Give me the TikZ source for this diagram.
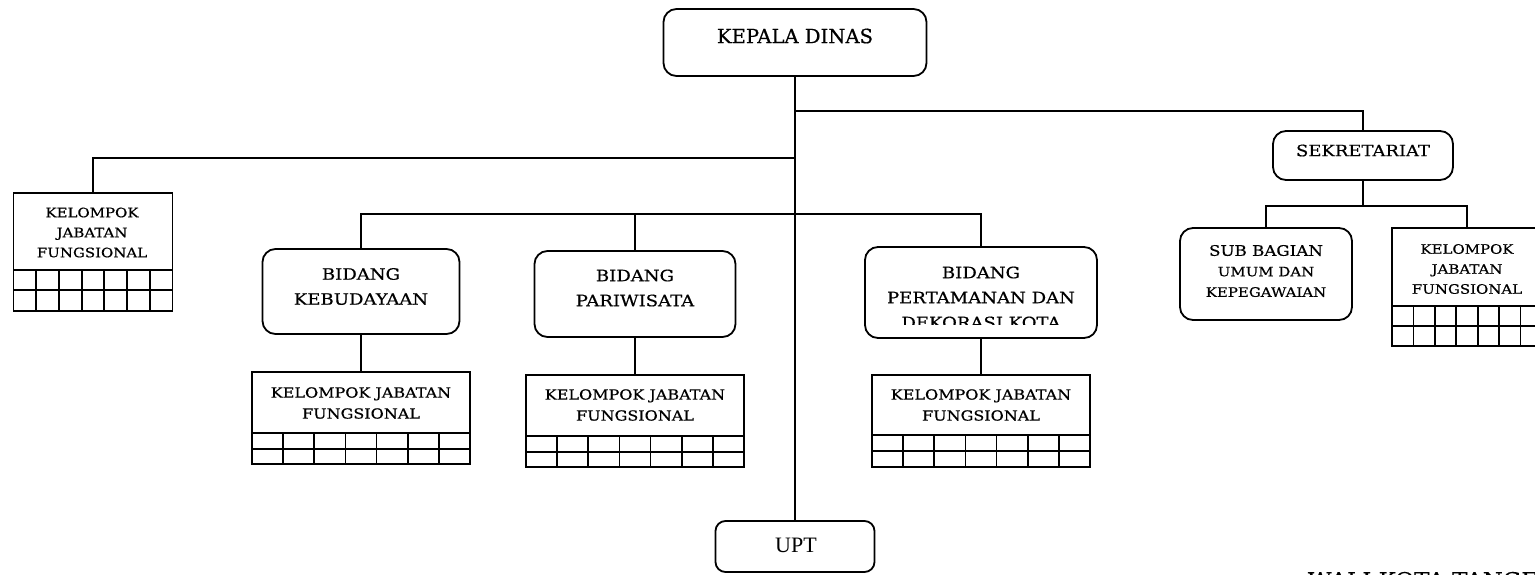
\documentclass[tikz,border=0pt]{standalone}
\usepackage{fontspec}
\setmainfont{DejaVu Serif}
\newfontfamily\wf[FakeStretch=1.15,FakeBold=0.6]{DejaVu Serif}
\newfontfamily\nf[FakeBold=0.6]{DejaVu Serif}
\newfontfamily\uptfont{Liberation Serif}
\usetikzlibrary{calc}
\newcommand\kjfgrid[3]{%
  \draw ([yshift=#2pt]#1.south west) -- ([yshift=#2pt]#1.south east);
  \draw ([yshift=#3pt]#1.south west) -- ([yshift=#3pt]#1.south east);
  \foreach \i in {1,...,6}{\draw ($(#1.south west)!\i/7!(#1.south east)$) -- ++(0,-#2);}
}
\begin{document}
\begin{tikzpicture}[x=1pt,y=-1pt,line width=1.8pt,
  rbox/.style={draw,rounded corners=13pt,outer sep=0pt,inner sep=0pt},
  sbox/.style={draw,outer sep=0pt,inner sep=0pt},
  lbl/.style n args={2}{align=center,inner sep=0pt,font=\wf\fontsize{#1}{#2}\selectfont}]
\useasboundingbox (0,0) rectangle (1535,574);
% boxes
\node[rbox,minimum width=263pt,minimum height=67pt] (kd) at (795,42.5) {};
\node[rbox,minimum width=180pt,minimum height=49pt] (sek) at (1363,155.5) {};
\node[rbox,minimum width=172pt,minimum height=92pt] (sb) at (1266,274) {};
\node[sbox,minimum width=150pt,minimum height=118pt] (kr) at (1467,287) {};
\node[sbox,minimum width=159pt,minimum height=118pt] (kl) at (93,252) {};
\node[rbox,minimum width=197pt,minimum height=85pt] (b1) at (361,291.5) {};
\node[rbox,minimum width=201pt,minimum height=86pt] (b2) at (635,294) {};
\node[rbox,minimum width=232pt,minimum height=91pt] (b3) at (981,292.5) {};
\node[sbox,minimum width=218pt,minimum height=92pt] (k1) at (361,418) {};
\node[sbox,minimum width=218pt,minimum height=92pt] (k2) at (635,421) {};
\node[sbox,minimum width=218pt,minimum height=92pt] (k3) at (981,421) {};
\node[rbox,rounded corners=10pt,minimum width=159pt,minimum height=51pt] (upt) at (795,546.5) {};
% grids
\kjfgrid{kl}{41}{21}
\kjfgrid{kr}{40}{20}
\kjfgrid{k1}{31}{15}
\kjfgrid{k2}{31}{15}
\kjfgrid{k3}{32}{16}
% labels
\node[inner sep=0pt,font=\nf\fontsize{19.6}{22}\selectfont] (tkd) at (795,36) {KEPALA DINAS};
\node[lbl={15.6}{20}] (tsek) at (1363,150.5) {SEKRETARIAT};
\node[lbl={13}{20.5}] (tsb) at (1266,271) {{\fontsize{14.5}{20.5}\selectfont SUB BAGIAN}\\UMUM DAN\\KEPEGAWAIAN};
\node[lbl={13}{20}] (tkl) at (92,232.5) {KELOMPOK\\JABATAN\\FUNGSIONAL};
\node[lbl={13}{20}] (tkr) at (1467,269) {KELOMPOK\\JABATAN\\FUNGSIONAL};
\node[lbl={15.7}{25}] (tb1) at (361,286.5) {BIDANG\\KEBUDAYAAN};
\node[lbl={15.7}{25}] (tb2) at (635,288) {BIDANG\\PARIWISATA};
\begin{scope}
\clip (865,240) rectangle (1097,324.5);
\node[lbl={15.7}{25}] (tb3) at (981,297.5) {BIDANG\\PERTAMANAN DAN\\DEKORASI KOTA};
\end{scope}
\node[lbl={13.9}{21}] (tk1) at (361,403) {KELOMPOK JABATAN\\FUNGSIONAL};
\node[lbl={13.9}{21}] (tk2) at (635,405) {KELOMPOK JABATAN\\FUNGSIONAL};
\node[lbl={13.9}{21}] (tk3) at (981,405) {KELOMPOK JABATAN\\FUNGSIONAL};
\node[inner sep=0pt,font=\uptfont\fontsize{22}{24}\selectfont] (tupt) at (796,545.5) {UPT};
\node[lbl={20}{24},anchor=north west] (twk) at (1307,571) {WALI KOTA TANGERANG};
% connectors
\coordinate (j1) at (795,111);
\coordinate (j2) at (795,158);
\coordinate (j3) at (795,214);
\coordinate (j4) at (1363,206);
\draw (kd.south) -- (upt.north);
\draw (j1) -| (sek.north);
\draw (j2) -| (kl.north);
\draw (b1.north) |- (j3) -| (b3.north);
\draw (b2.north) -- (b2.north |- j3);
\draw (b1.south) -- (k1.north);
\draw (b2.south) -- (k2.north);
\draw (b3.south) -- (k3.north);
\draw (sek.south) -- (j4);
\draw (sb.north) |- (j4) -| (kr.north);
\end{tikzpicture}
\end{document}
